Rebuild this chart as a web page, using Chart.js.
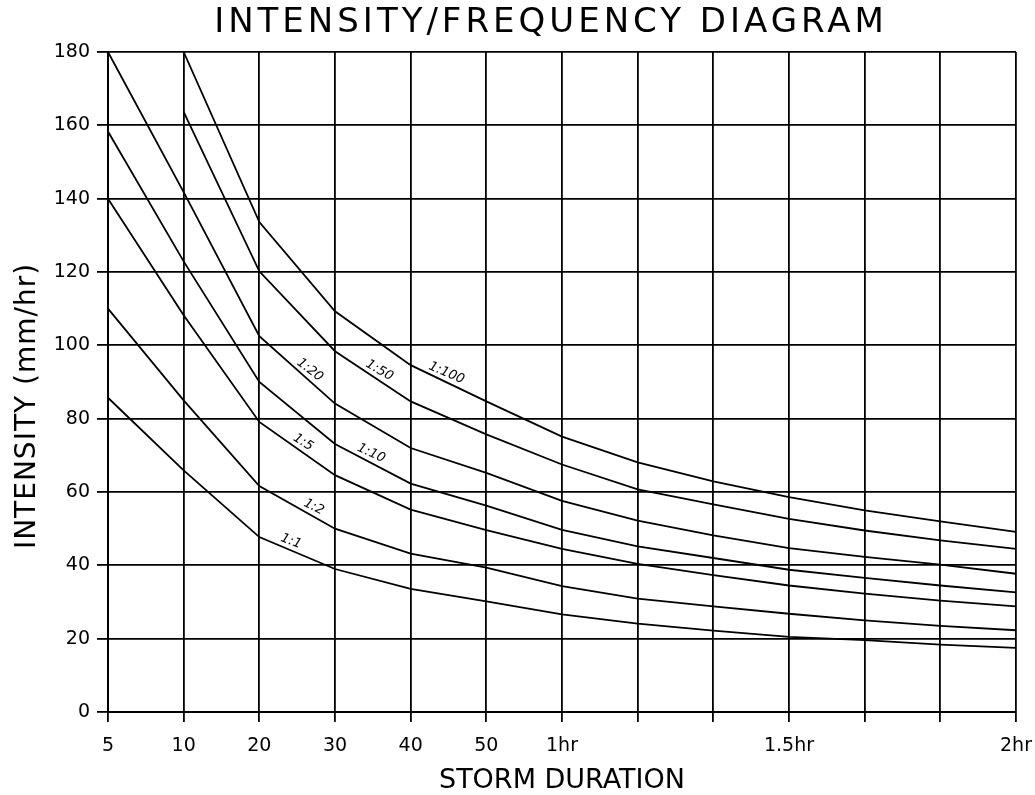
<!DOCTYPE html>
<html>
<head>
<meta charset="utf-8">
<script src="https://cdn.jsdelivr.net/npm/chart.js@4.4.1/dist/chart.umd.min.js"></script>
<style>
html,body{margin:0;padding:0;background:#ffffff;}
#wrap{width:1035px;height:795px;position:relative;}
</style>
</head>
<body>
<div id="wrap"><canvas id="c" width="1035" height="795"></canvas></div>
<script>
// ---- data ----
const durations = [5, 10, 20, 30, 40, 50, 60, 70, 80, 90, 100, 110, 120]; // minutes
const tickLabels = ['5', '10', '20', '30', '40', '50', '1hr', '', '', '1.5hr', '', '', '2hr'];
const returnPeriods = ['1:1', '1:2', '1:5', '1:10', '1:20', '1:50', '1:100'];

const rp1   = [85.7, 65.9, 47.7, 39.0, 33.6, 30.2, 26.6, 24.1, 22.2, 20.5, 19.6, 18.4, 17.5];
const rp2   = [110, 85.0, 61.6, 50.0, 43.2, 39.4, 34.3, 30.9, 28.8, 26.8, 25.0, 23.5, 22.3];
const rp5   = [140, 108.2, 79.1, 64.6, 55.2, 49.6, 44.5, 40.4, 37.3, 34.5, 32.3, 30.4, 28.8];
const rp10  = [158.3, 122.9, 90.0, 73.1, 62.3, 56.3, 49.7, 45.2, 42.0, 38.8, 36.6, 34.5, 32.6];
const rp20  = [180, 141.8, 102.5, 84.1, 72.0, 65.2, 57.6, 52.2, 48.2, 44.7, 42.3, 40.2, 37.7];
const rp50  = [null, 163.7, 120.2, 98.4, 84.7, 75.7, 67.5, 60.7, 56.6, 52.7, 49.5, 46.8, 44.5];
const rp100 = [null, 180, 133.6, 109.3, 94.6, 84.7, 75.1, 68.1, 62.9, 58.6, 55.0, 52.0, 49.1];

// duration (minutes) at which each curve's label sits
const labelDurations = [23.8, 26.7, 25.2, 34.3, 26.0, 35.3, 44.3];

const yMin = 0, yMax = 180, yStep = 20;

const seriesList = [rp1, rp2, rp5, rp10, rp20, rp50, rp100];

// ---- helpers ----
function durationToIndex(d) {
  for (let i = 0; i < durations.length - 1; i++) {
    if (d >= durations[i] && d <= durations[i + 1]) {
      return i + (d - durations[i]) / (durations[i + 1] - durations[i]);
    }
  }
  return durations.length - 1;
}

const textPlugin = {
  id: 'texts',
  afterDraw(chart) {
    const ctx = chart.ctx;
    const xs = chart.scales.x, ys = chart.scales.y;
    const ca = chart.chartArea;
    ctx.save();
    ctx.fillStyle = '#000';

    // main title
    ctx.font = '34px "DejaVu Sans"';
    if ('letterSpacing' in ctx) ctx.letterSpacing = '4px';
    ctx.textAlign = 'center';
    ctx.textBaseline = 'alphabetic';
    ctx.fillText('INTENSITY/FREQUENCY DIAGRAM', 551, 32);
    if ('letterSpacing' in ctx) ctx.letterSpacing = '0px';

    // x axis title
    ctx.font = '27px "DejaVu Sans"';
    ctx.fillText('STORM DURATION', (ca.left + ca.right) / 2, 788);

    // y axis title
    ctx.save();
    ctx.translate(35, 406);
    ctx.rotate(-Math.PI / 2);
    ctx.font = '28px "DejaVu Sans"';
    if ('letterSpacing' in ctx) ctx.letterSpacing = '1px';
    ctx.fillText('INTENSITY (mm/hr)', 0, 0);
    ctx.restore();

    // curve labels
    ctx.font = 'italic 13px "DejaVu Sans"';
    ctx.textAlign = 'center';
    ctx.textBaseline = 'bottom';
    returnPeriods.forEach((name, k) => {
      const data = seriesList[k];
      const idx = durationToIndex(labelDurations[k]);
      const i0 = Math.floor(idx), i1 = Math.min(i0 + 1, data.length - 1);
      const t = idx - i0;
      const v = data[i0] + (data[i1] - data[i0]) * t;
      const px = xs.getPixelForValue(idx);
      const py = ys.getPixelForValue(v);
      const ang = Math.atan2(ys.getPixelForValue(data[i1]) - ys.getPixelForValue(data[i0]),
                             xs.getPixelForValue(i1) - xs.getPixelForValue(i0));
      ctx.save();
      ctx.translate(px, py);
      ctx.rotate(ang * 0.9);
      ctx.fillText(name, 0, -2);
      ctx.restore();
    });
    ctx.restore();
  }
};

const datasets = seriesList.map((d, k) => ({
  label: returnPeriods[k],
  data: d,
  borderColor: '#000',
  borderWidth: 1.8,
  pointRadius: 0,
  tension: 0,
  fill: false,
  spanGaps: false
}));

new Chart(document.getElementById('c'), {
  type: 'line',
  data: { labels: durations, datasets },
  options: {
    responsive: false,
    animation: false,
    devicePixelRatio: 1,
    layout: { padding: { top: 52, right: 19, left: 0, bottom: 0 } },
    plugins: { legend: { display: false }, title: { display: false }, tooltip: { enabled: false } },
    scales: {
      x: {
        type: 'category',
        offset: false,
        afterFit(scale) { scale.height = 83; scale.paddingLeft = 0; scale.paddingRight = 0; },
        grid: { color: '#000', lineWidth: 1.8, tickLength: 10, drawTicks: true, offset: false },
        border: { color: '#000', width: 2 },
        ticks: {
          autoSkip: false, maxRotation: 0, minRotation: 0, padding: 13,
          color: '#000', font: { family: 'DejaVu Sans', size: 19 },
          callback: (v, i) => tickLabels[i]
        }
      },
      y: {
        min: yMin, max: yMax,
        afterFit(scale) { scale.width = 108; scale.paddingTop = 0; scale.paddingBottom = 0; },
        grid: { color: '#000', lineWidth: 1.8, tickLength: 11, drawTicks: true },
        border: { color: '#000', width: 2 },
        ticks: {
          stepSize: yStep, padding: 7, color: '#000',
          font: { family: 'DejaVu Sans', size: 19 }
        }
      }
    }
  },
  plugins: [textPlugin]
});
</script>
</body>
</html>
